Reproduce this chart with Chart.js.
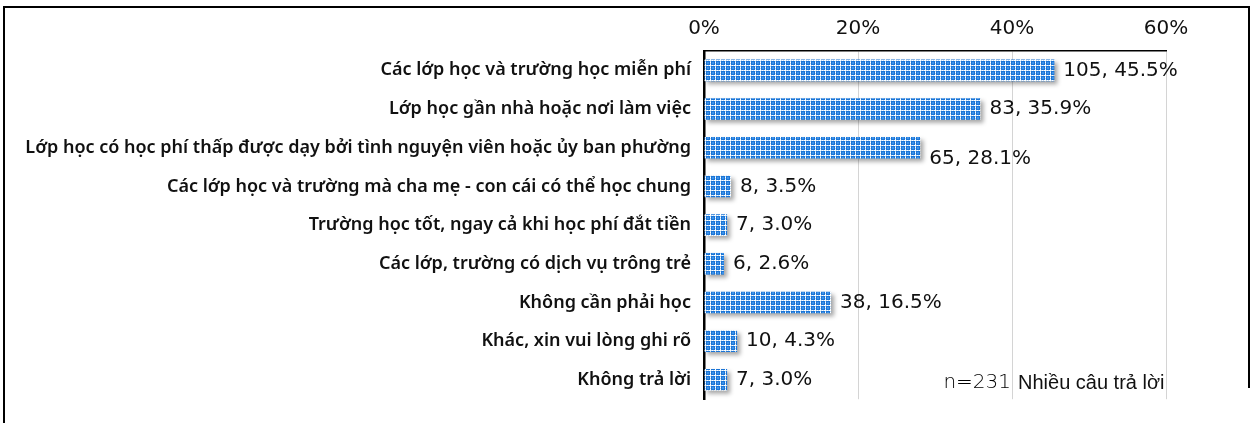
<!DOCTYPE html>
<html><head><meta charset="utf-8">
<script src="https://cdn.jsdelivr.net/npm/chart.js@4.4.1/dist/chart.umd.min.js"></script>
<style>html,body{margin:0;padding:0;background:#fff}#wrap{width:1252px;height:423px;position:relative}</style>
</head><body><div id="wrap"><canvas id="c" width="1252" height="423"></canvas></div>
<script>
const categories = [
  "Các lớp học và trường học miễn phí",
  "Lớp học gần nhà hoặc nơi làm việc",
  "Lớp học có học phí thấp được dạy bởi tình nguyện viên hoặc ủy ban phường",
  "Các lớp học và trường mà cha mẹ - con cái có thể học chung",
  "Trường học tốt, ngay cả khi học phí đắt tiền",
  "Các lớp, trường có dịch vụ trông trẻ",
  "Không cần phải học",
  "Khác, xin vui lòng ghi rõ",
  "Không trả lời"
];
const counts = [105, 83, 65, 8, 7, 6, 38, 10, 7];
const percents = [45.5, 35.9, 28.1, 3.5, 3.0, 2.6, 16.5, 4.3, 3.0];
const tickValues = [0, 20, 40, 60];
const noteN = "n=231";
const noteMulti = "Nhiều câu trả lời";

function makePattern(){
  const t = document.createElement('canvas'); t.width = 5; t.height = 5;
  const g = t.getContext('2d');
  g.fillStyle = '#1a74d6'; g.fillRect(0,0,5,5);
  g.fillStyle = '#3d92e8'; g.fillRect(2,2,2,2);
  g.fillStyle = '#bcdaf6'; g.fillRect(0,0,5,1); g.fillRect(0,0,1,5);
  g.fillStyle = '#ffffff'; g.fillRect(0,0,1,1); g.fillRect(2,0,1,1); g.fillRect(0,2,1,1); g.fillRect(4,0,1,1); g.fillRect(0,4,1,1);
  return document.getElementById('c').getContext('2d').createPattern(t,'repeat');
}
const pattern = makePattern();

const shadowPlugin = {
  id:'shadow',
  beforeDatasetsDraw(chart){ const c=chart.ctx; c.save(); c.shadowColor='rgba(0,0,0,0.35)'; c.shadowBlur=4; c.shadowOffsetX=3; c.shadowOffsetY=3; },
  afterDatasetsDraw(chart){ chart.ctx.restore(); }
};
const labelPlugin = {
  id:'labels',
  afterDatasetsDraw(chart){
    const c = chart.ctx; const meta = chart.getDatasetMeta(0);
    c.save(); c.font = '20px "DejaVu Sans"'; c.fillStyle = '#111'; c.textBaseline='middle'; c.textAlign='left';
    meta.data.forEach((b,i)=>{
      const dy = i===2 ? 11 : 0;
      c.fillText(counts[i] + ', ' + percents[i].toFixed(1) + '%', b.x + 9, b.y + dy);
    });
    const a = chart.chartArea;
    c.font = '200 20px "DejaVu Sans"'; c.textAlign='right'; c.fillStyle='#000';
    c.fillText(noteN, 1011, a.bottom - 16);
    c.font = '20px "Liberation Sans"'; c.textAlign='left'; c.fillStyle='#111';
    c.fillText(noteMulti, 1018, a.bottom - 16);
    c.restore();
  },
  afterDraw(chart){
    const c = chart.ctx; c.save(); c.strokeStyle='#000'; c.lineWidth=2;
    c.beginPath(); c.moveTo(4,423); c.lineTo(4,7); c.lineTo(1249,7); c.lineTo(1249,388); c.stroke(); c.restore();
  }
};

new Chart(document.getElementById('c'), {
  type:'bar',
  data:{ labels: categories, datasets:[{ data: percents, backgroundColor: pattern, borderWidth:0, barPercentage:0.56, categoryPercentage:1 }]},
  options:{
    indexAxis:'y', responsive:false, animation:false,
    layout:{ padding:{ left:0, right:86, top:0, bottom:17 } },
    plugins:{ legend:{display:false}, tooltip:{enabled:false} },
    scales:{
      x:{ position:'top', min:0, max:60,
        afterBuildTicks(s){ s.ticks = tickValues.map(v=>({value:v})); },
        afterFit(s){ s.height = 51; },
        ticks:{ callback:v=>v+'%', color:'#111', font:{ family:'DejaVu Sans', size:20 }, padding:10 },
        grid:{ color:'#d4d4d4', drawTicks:false, lineWidth:1 },
        border:{ color:'#000', width:1.5 }
      },
      y:{ afterFit(s){ s.width = 704; },
        ticks:{ color:'#111', font:{ family:'Noto Sans', size:18, weight:'600' }, padding:13 },
        grid:{ display:false, drawTicks:false },
        border:{ color:'#000', width:2.5 }
      }
    }
  },
  plugins:[shadowPlugin, labelPlugin]
});
</script></body></html>
